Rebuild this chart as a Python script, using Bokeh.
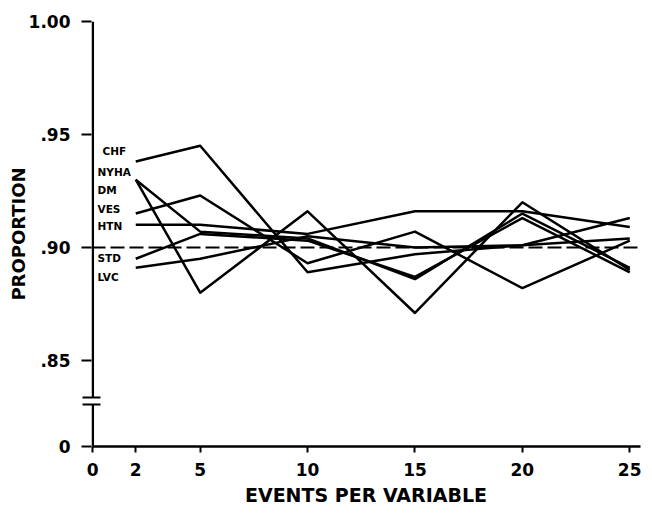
from bokeh.plotting import figure
from bokeh.models import Range1d, FixedTicker, CustomJSTickFormatter, Span
from bokeh.core.properties import value
from bokeh.embed import file_html
from bokeh.resources import INLINE

# ---------------- data ----------------
EPV = [2, 5, 10, 15, 20, 25]
X_TICKS = [0, 2, 5, 10, 15, 20, 25]
NAMES = ["CHF", "NYHA", "DM", "VES", "HTN", "STD", "LVC"]
CHF = [0.938, 0.945, 0.889, 0.897, 0.901, 0.913]
NYHA = [0.930, 0.880, 0.916, 0.871, 0.920, 0.890]
DM = [0.930, 0.907, 0.904, 0.886, 0.915, 0.891]
VES = [0.915, 0.923, 0.893, 0.907, 0.882, 0.903]
HTN = [0.910, 0.910, 0.906, 0.916, 0.916, 0.909]
STD = [0.895, 0.906, 0.903, 0.887, 0.913, 0.889]
LVC = [0.891, 0.895, 0.905, 0.900, 0.901, 0.904]
SERIES = [CHF, NYHA, DM, VES, HTN, STD, LVC]
Y_TICK_VALUES = [0.85, 0.90, 0.95, 1.00]
REFERENCE = 0.90

# ---------------- layout (broken axis) ----------------
Y_ZERO_POS = 0.8119      # where the value 0 is drawn, below the axis break
BREAK_LO = 0.8305
BREAK_HI = 0.8336
LABEL_X = [0.45, 0.22, 0.22, 0.22, 0.22, 0.22, 0.22]
LABEL_Y = [0.9425, 0.9332, 0.9256, 0.9172, 0.9097, 0.8955, 0.8871]

FONT = "DejaVu Sans"

p = figure(frame_width=549, frame_height=425,
           x_range=Range1d(-0.06, 25.5), y_range=Range1d(Y_ZERO_POS, 1.0),
           output_backend="svg", toolbar_location=None,
           min_border_left=84, min_border_right=1,
           min_border_top=21, min_border_bottom=64)
p.margin = (0, 0, 0, 4)
p.outline_line_color = None
p.grid.visible = False
p.background_fill_color = "white"
p.border_fill_color = "white"

# x axis
xa = p.xaxis[0]
xa.ticker = FixedTicker(ticks=X_TICKS)
xa.bounds = (0, 25.5)
xa.axis_line_width = 2.5
xa.axis_line_color = "black"
xa.major_tick_line_width = 2
xa.major_tick_in = 0
xa.major_tick_out = 6
xa.minor_tick_line_color = None
xa.major_label_text_font = FONT
xa.major_label_text_font_style = "bold"
xa.major_label_text_font_size = "17px"
xa.major_label_text_color = "black"
xa.major_label_standoff = 10
xa.axis_label = "EVENTS PER VARIABLE"
xa.axis_label_text_font = FONT
xa.axis_label_text_font_style = "bold"
xa.axis_label_text_font_size = "19px"
xa.axis_label_text_color = "black"
xa.axis_label_standoff = 5

# y axis (line drawn separately to show the break)
ya = p.yaxis[0]
ya.ticker = FixedTicker(ticks=[Y_ZERO_POS] + Y_TICK_VALUES, minor_ticks=[BREAK_LO, BREAK_HI])
ya.formatter = CustomJSTickFormatter(code="""
if (tick < 0.82) { return "0"; }
if (tick > 0.995) { return "1.00"; }
return tick.toFixed(2).replace(/^0/, "");
""")
ya.axis_line_color = None
ya.major_tick_line_width = 2
ya.major_tick_in = 0
ya.major_tick_out = 10
ya.minor_tick_line_width = 2
ya.minor_tick_line_color = "black"
ya.minor_tick_in = 9
ya.minor_tick_out = 9
ya.major_label_text_font = FONT
ya.major_label_text_font_style = "bold"
ya.major_label_text_font_size = "17px"
ya.major_label_text_color = "black"
ya.major_label_standoff = 11
ya.axis_label = "PROPORTION"
ya.axis_label_text_font = FONT
ya.axis_label_text_font_style = "bold"
ya.axis_label_text_font_size = "18px"
ya.axis_label_text_color = "black"
ya.axis_label_standoff = -3

# broken y-axis line
p.segment(x0=[0, 0], y0=[Y_ZERO_POS, BREAK_HI], x1=[0, 0], y1=[BREAK_LO, 1.0],
          line_color="black", line_width=2.5)

# reference line at .90
p.add_layout(Span(location=REFERENCE, dimension="width", line_color="black",
                  line_width=2, line_dash="14 5"))

for vals in SERIES:
    p.line(EPV, vals, line_color="black", line_width=2.5, line_join="round")

p.text(x=LABEL_X, y=LABEL_Y, text=NAMES, text_font=value(FONT),
       text_font_style="bold", text_font_size="10.5px", text_color="black",
       text_baseline="middle", text_align="left")

open("out.html", "w").write(file_html(p, INLINE))
